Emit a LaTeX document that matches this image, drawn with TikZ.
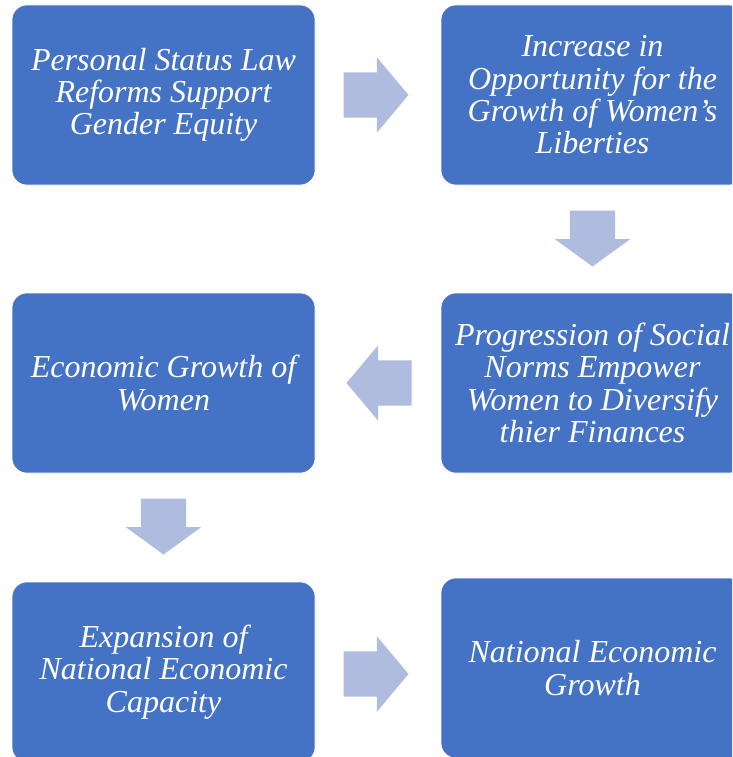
\documentclass[tikz,border=0pt]{standalone}
\usepackage{fontspec}
\setmainfont{Liberation Serif}
\usetikzlibrary{shapes.arrows,calc}

\definecolor{stageblue}{HTML}{4472C4}
\definecolor{flowblue}{HTML}{AFBCE0}

\tikzset{
	stage/.style={rectangle, rounded corners=15pt, fill=stageblue, draw=white,
		line width=0.6pt, minimum width=303pt, minimum height=180pt,
		inner sep=0pt, align=center, text=white,
		font=\fontsize{32}{32.3}\selectfont\itshape},
	flow/.style={single arrow, fill=flowblue, draw=none, minimum height=65pt,
		inner xsep=0pt, inner ysep=22.5pt, single arrow head extend=15pt,
		single arrow tip angle=100, anchor=tail},
	flowdown/.style={flow, rotate=-90, minimum height=56pt,
		single arrow tip angle=108}
}

\begin{document}
\begin{tikzpicture}[x=1pt,y=1pt]
	\clip (0,0) rectangle (732,-757);

	% the six stages
	\node[stage] (law)      at (163.5,-95)  {Personal Status Law\\Reforms Support\\Gender Equity};
	\node[stage] (liberty)  at (592.5,-95)  {Increase in\\Opportunity for the\\Growth of Women’s\\Liberties};
	\node[stage] (norms)    at (592.5,-383) {Progression of Social\\Norms Empower\\Women to Diversify\\thier Finances};
	\node[stage] (growth)   at (163.5,-383) {Economic Growth of\\Women};
	\node[stage] (capacity) at (163.5,-672) {Expansion of\\National Economic\\Capacity};
	\node[stage] (national) at (592.5,-668) {National Economic\\Growth};

	% block arrows between them
	\node[flow] (a1) at ($(law.east)+(28,0)$) {};
	\node[flowdown] (a2) at ($(liberty.south)+(0,-25)$) {};
	\node[flow, rotate=180] (a3) at ($(norms.west)+(-29,0)$) {};
	\node[flowdown] (a4) at ($(growth.south)+(0,-25)$) {};
	\node[flow] (a5) at ($(capacity.east)+(28,-2)$) {};
\end{tikzpicture}
\end{document}
